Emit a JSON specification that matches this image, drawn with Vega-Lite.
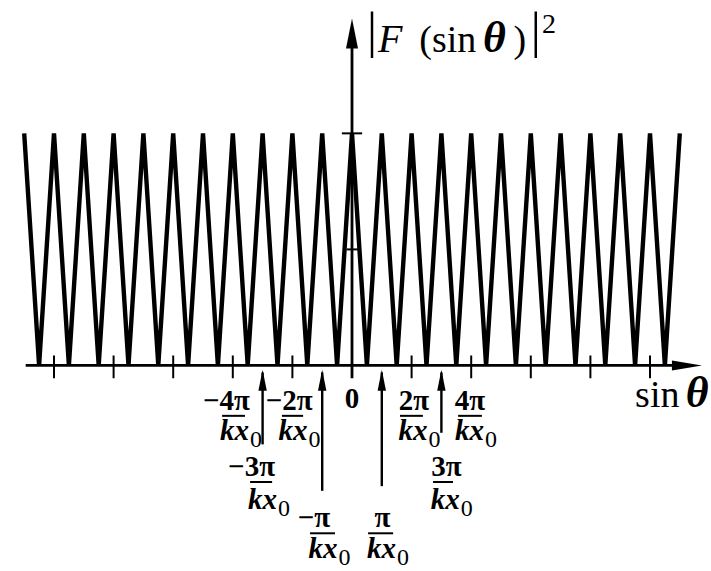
{
  "$schema": "https://vega.github.io/schema/vega-lite/v6.json",
  "width": 711,
  "height": 571,
  "autosize": {"type": "fit", "contains": "padding"},
  "padding": 0,
  "background": "white",
  "config": {
    "view": {"stroke": null},
    "text": {"font": "Liberation Serif", "color": "black", "baseline": "alphabetic"},
    "rule": {"color": "black"},
    "point": {"color": "black", "filled": true, "opacity": 1}
  },
  "datasets": {
    "curve": [
      {"s": -11, "I": 1}, {"s": -10.5, "I": 0}, {"s": -10, "I": 1}, {"s": -9.5, "I": 0},
      {"s": -9, "I": 1}, {"s": -8.5, "I": 0}, {"s": -8, "I": 1}, {"s": -7.5, "I": 0},
      {"s": -7, "I": 1}, {"s": -6.5, "I": 0}, {"s": -6, "I": 1}, {"s": -5.5, "I": 0},
      {"s": -5, "I": 1}, {"s": -4.5, "I": 0}, {"s": -4, "I": 1}, {"s": -3.5, "I": 0},
      {"s": -3, "I": 1}, {"s": -2.5, "I": 0}, {"s": -2, "I": 1}, {"s": -1.5, "I": 0},
      {"s": -1, "I": 1}, {"s": -0.5, "I": 0}, {"s": 0, "I": 1}, {"s": 0.5, "I": 0},
      {"s": 1, "I": 1}, {"s": 1.5, "I": 0}, {"s": 2, "I": 1}, {"s": 2.5, "I": 0},
      {"s": 3, "I": 1}, {"s": 3.5, "I": 0}, {"s": 4, "I": 1}, {"s": 4.5, "I": 0},
      {"s": 5, "I": 1}, {"s": 5.5, "I": 0}, {"s": 6, "I": 1}, {"s": 6.5, "I": 0},
      {"s": 7, "I": 1}, {"s": 7.5, "I": 0}, {"s": 8, "I": 1}, {"s": 8.5, "I": 0},
      {"s": 9, "I": 1}, {"s": 9.5, "I": 0}, {"s": 10, "I": 1}, {"s": 10.5, "I": 0},
      {"s": 11, "I": 1}
    ],
    "axisLines": [
      {"s": -10.95, "s2": 11.1, "I": 0, "I2": 0},
      {"s": 0, "s2": 0, "I": -0.055, "I2": 1.45}
    ],
    "xticks": [
      {"s": -10, "I": -0.055, "I2": 0.043}, {"s": -8, "I": -0.055, "I2": 0.043},
      {"s": -6, "I": -0.055, "I2": 0.043}, {"s": -4, "I": -0.055, "I2": 0.043},
      {"s": -2, "I": -0.055, "I2": 0.043}, {"s": 2, "I": -0.055, "I2": 0.043},
      {"s": 4, "I": -0.055, "I2": 0.043}, {"s": 6, "I": -0.055, "I2": 0.043},
      {"s": 8, "I": -0.055, "I2": 0.043}, {"s": 10, "I": -0.055, "I2": 0.043}
    ],
    "yticks": [
      {"s": -0.34, "s2": 0.34, "I": 1},
      {"s": -0.18, "s2": 0.2, "I": 0.5}
    ],
    "arrows": [
      {"s": -3, "I": -0.03, "I2": -0.34},
      {"s": -1, "I": -0.03, "I2": -0.54},
      {"s": 1, "I": -0.03, "I2": -0.52},
      {"s": 3, "I": -0.03, "I2": -0.29}
    ],
    "arrowHeads": [
      {"s": -3, "I": -0.064}, {"s": -1, "I": -0.064}, {"s": 1, "I": -0.064}, {"s": 3, "I": -0.064}
    ],
    "numerators": [
      {"t": "−4π", "s": -4.21, "I": -0.1915},
      {"t": "−2π", "s": -2.11, "I": -0.1915},
      {"t": "0", "s": 0, "I": -0.183},
      {"t": "2π", "s": 2.08, "I": -0.1915},
      {"t": "4π", "s": 3.96, "I": -0.1915},
      {"t": "−3π", "s": -3.37, "I": -0.477},
      {"t": "3π", "s": 3.17, "I": -0.477},
      {"t": "−π", "s": -1.28, "I": -0.694},
      {"t": "π", "s": 1.02, "I": -0.694}
    ],
    "fbars": [
      {"s": -4.36, "s2": -3.59, "I": -0.217},
      {"s": -2.35, "s2": -1.64, "I": -0.217},
      {"s": 1.61, "s2": 2.38, "I": -0.217},
      {"s": 3.56, "s2": 4.36, "I": -0.217},
      {"s": -3.42, "s2": -2.68, "I": -0.502},
      {"s": 2.72, "s2": 3.39, "I": -0.502},
      {"s": -1.41, "s2": -0.57, "I": -0.723},
      {"s": 0.54, "s2": 1.38, "I": -0.723}
    ],
    "denoms": [
      {"s": -3.46, "I": -0.319}, {"s": -1.49, "I": -0.319},
      {"s": 2.53, "I": -0.319}, {"s": 4.43, "I": -0.319},
      {"s": -2.52, "I": -0.617}, {"s": 3.62, "I": -0.617},
      {"s": -0.49, "I": -0.83}, {"s": 1.48, "I": -0.83}
    ],
    "upright": [
      {"t": "(sin", "s": 2.26, "I": 1.349},
      {"t": ")", "s": 5.42, "I": 1.349},
      {"t": "sin", "s": 9.5, "I": -0.179}
    ],
    "italic": [
      {"t": "F", "s": 0.87, "I": 1.349}
    ],
    "bolditalic": [
      {"t": "θ", "s": 4.40, "I": 1.349},
      {"t": "θ", "s": 11.2, "I": -0.179}
    ],
    "absbars": [
      {"t": "|", "s": 0.5, "I": 1.374},
      {"t": "|", "s": 6.0, "I": 1.374}
    ],
    "power": [
      {"t": "2", "s": 6.38, "I": 1.434}
    ]
  },
  "encoding": {
    "x": {"field": "s", "type": "quantitative", "scale": {"domain": [-11.812, 12.047], "nice": false, "zero": false}, "axis": null},
    "y": {"field": "I", "type": "quantitative", "scale": {"domain": [-0.8553, 1.5745], "nice": false, "zero": false}, "axis": null}
  },
  "layer": [
    {
      "data": {"name": "curve"},
      "mark": {"type": "line", "color": "black", "strokeWidth": 4.4}
    },
    {
      "data": {"name": "axisLines"},
      "mark": {"type": "rule", "strokeWidth": 2.8},
      "encoding": {"x2": {"field": "s2"}, "y2": {"field": "I2"}}
    },
    {
      "data": {"values": [{"s": 11.24, "I": 0}]},
      "mark": {"type": "point", "shape": "M-1,-0.33L1,0L-1,0.33Z", "size": 900, "strokeWidth": 0}
    },
    {
      "data": {"values": [{"s": 0, "I": 1.43}]},
      "mark": {"type": "point", "shape": "M-0.4,1L0,-1L0.4,1Z", "size": 900, "strokeWidth": 0}
    },
    {
      "data": {"name": "xticks"},
      "mark": {"type": "rule", "strokeWidth": 2},
      "encoding": {"y2": {"field": "I2"}}
    },
    {
      "data": {"name": "yticks"},
      "mark": {"type": "rule", "strokeWidth": 2},
      "encoding": {"x2": {"field": "s2"}}
    },
    {
      "data": {"name": "arrows"},
      "mark": {"type": "rule", "strokeWidth": 2.4},
      "encoding": {"y2": {"field": "I2"}}
    },
    {
      "data": {"name": "arrowHeads"},
      "mark": {"type": "point", "shape": "M0,-1L0.4,1L-0.4,1Z", "size": 440, "strokeWidth": 0}
    },
    {
      "data": {"name": "numerators"},
      "mark": {"type": "text", "fontSize": 29, "fontWeight": "bold", "align": "center"},
      "encoding": {"text": {"field": "t"}}
    },
    {
      "data": {"name": "fbars"},
      "mark": {"type": "rule", "strokeWidth": 2},
      "encoding": {"x2": {"field": "s2"}}
    },
    {
      "data": {"name": "denoms"},
      "mark": {"type": "text", "text": "kx", "fontSize": 29, "fontWeight": "bold", "fontStyle": "italic", "align": "right"}
    },
    {
      "data": {"name": "denoms"},
      "mark": {"type": "text", "text": "0", "fontSize": 24, "align": "left", "dx": 1, "dy": 7}
    },
    {
      "data": {"name": "upright"},
      "mark": {"type": "text", "fontSize": 38, "align": "left"},
      "encoding": {"text": {"field": "t"}}
    },
    {
      "data": {"name": "italic"},
      "mark": {"type": "text", "fontSize": 40, "fontStyle": "italic", "align": "left"},
      "encoding": {"text": {"field": "t"}}
    },
    {
      "data": {"name": "bolditalic"},
      "mark": {"type": "text", "fontSize": 44, "fontStyle": "italic", "fontWeight": "bold", "align": "left"},
      "encoding": {"text": {"field": "t"}}
    },
    {
      "data": {"name": "absbars"},
      "mark": {"type": "text", "fontSize": 50, "align": "left"},
      "encoding": {"text": {"field": "t"}}
    },
    {
      "data": {"name": "power"},
      "mark": {"type": "text", "fontSize": 28, "align": "left"},
      "encoding": {"text": {"field": "t"}}
    }
  ]
}
